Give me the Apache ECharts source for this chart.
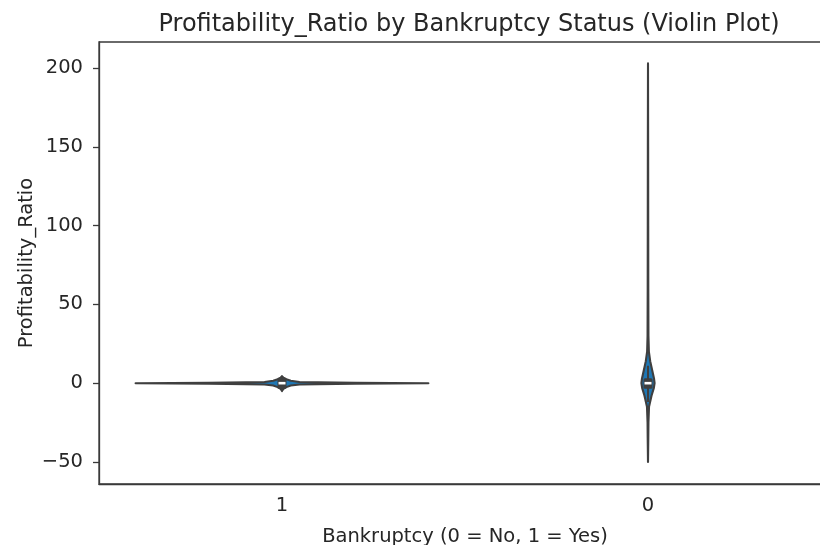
<!DOCTYPE html>
<html>
<head>
<meta charset="utf-8">
<script src="https://cdn.jsdelivr.net/npm/echarts@6/dist/echarts.min.js"></script>
<style>html,body{margin:0;padding:0;background:#fff;}#c{width:820px;height:545px;}</style>
</head>
<body>
<div id="c"></div>
<script>
var categories = ['1', '0'];
var yTicks = [-50, 0, 50, 100, 150, 200];
// KDE grid (value) and relative half-width (fraction of max violin half-width) per category
var kdeY1 = [-5, -3.5, -2.5, -1.5, -0.8, -0.3, 0, 0.3, 0.8, 1.5, 2.5, 3.5, 4.5];
var kdeW1 = [0, 0.01, 0.03, 0.06, 0.12, 0.5, 1.0, 0.5, 0.12, 0.06, 0.03, 0.01, 0];
var kdeY0 = [-50, -35, -25, -15, -8, -3, 0, 3, 8, 14, 20, 30, 60, 100, 150, 203];
var kdeW0 = [0, 0.002, 0.003, 0.007, 0.024, 0.04, 0.045, 0.041, 0.029, 0.015, 0.006, 0.003, 0.002, 0.0015, 0.001, 0];
var q1 = [-3.5, -3.5];
var median = [0, 0];
var q3 = [3.2, 3.2];
var whiskLo = [-5, -12];
var whiskHi = [4.5, 11];

var kdeY = [kdeY1, kdeY0];
var kdeW = [kdeW1, kdeW0];
var dark = '#3f3f3f';
var blue = '#1f77b4';

var chart = echarts.init(document.getElementById('c'), null, {renderer: 'canvas'});

function renderItem(params, api) {
  var i = params.dataIndex;
  var band = api.size([1, 0])[0];
  var maxHalf = band * 0.4;
  var ys = kdeY[i], ws = kdeW[i];
  var cx = api.coord([i, 0])[0];
  var pts = [];
  for (var k = 0; k < ys.length; k++) {
    var p = api.coord([i, ys[k]]);
    pts.push([cx + ws[k] * maxHalf, p[1]]);
  }
  for (var k = ys.length - 1; k >= 0; k--) {
    var p = api.coord([i, ys[k]]);
    pts.push([cx - ws[k] * maxHalf, p[1]]);
  }
  var yq1 = api.coord([i, q1[i]])[1];
  var yq3 = api.coord([i, q3[i]])[1];
  var ym = api.coord([i, median[i]])[1];
  var ywl = api.coord([i, whiskLo[i]])[1];
  var ywh = api.coord([i, whiskHi[i]])[1];
  var bw = 9;
  return {
    type: 'group',
    children: [
      {type: 'polygon', shape: {points: pts}, style: {fill: blue, stroke: dark, lineWidth: 2.1, lineJoin: 'round'}},
      {type: 'line', shape: {x1: cx, y1: ywl, x2: cx, y2: ywh}, style: {stroke: dark, lineWidth: 2}},
      {type: 'rect', shape: {x: cx - bw / 2, y: yq3, width: bw, height: yq1 - yq3, r: 1.5}, style: {fill: dark}},
      {type: 'rect', shape: {x: cx - 3.5, y: ym - 1.3, width: 7, height: 2.6}, style: {fill: '#ffffff'}}
    ]
  };
}

var font = 'DejaVu Sans';
var fs = 19.5;
chart.setOption({
  animation: false,
  backgroundColor: '#ffffff',
  title: {
    text: 'Profitability_Ratio by Bankruptcy Status (Violin Plot)',
    left: 464, top: 8, textAlign: 'center',
    textStyle: {fontFamily: font, fontSize: 24, fontWeight: 'normal', color: '#262626'}
  },
  grid: {left: 99, top: 42, width: 732, height: 442, show: true, borderColor: '#3a3a3a', borderWidth: 1.3, backgroundColor: 'transparent', outerBoundsMode: 'none', containLabel: false},
  xAxis: {
    type: 'category',
    data: categories,
    boundaryGap: true,
    name: 'Bankruptcy (0 = No, 1 = Yes)',
    nameLocation: 'middle',
    nameGap: 43,
    nameTextStyle: {fontFamily: font, fontSize: fs, color: '#262626'},
    axisLine: {onZero: false, lineStyle: {color: '#3a3a3a', width: 1.3}},
    axisTick: {alignWithLabel: true, length: 6, lineStyle: {color: '#3a3a3a', width: 1.3}},
    axisLabel: {fontFamily: font, fontSize: fs, color: '#262626', margin: 12},
    splitLine: {show: false}
  },
  yAxis: {
    type: 'value',
    min: -64, max: 216.6,
    name: 'Profitability_Ratio',
    nameLocation: 'middle',
    nameGap: 62,
    nameMoveOverlap: false,
    nameTextStyle: {fontFamily: font, fontSize: fs, color: '#262626'},
    axisLine: {show: true, lineStyle: {color: '#3a3a3a', width: 1.3}},
    axisTick: {show: true, length: 6, customValues: yTicks, lineStyle: {color: '#3a3a3a', width: 1.3}},
    axisLabel: {fontFamily: font, fontSize: fs, color: '#262626', margin: 16, customValues: yTicks,
      formatter: function (v) { return String(v).replace('-', '\u2212'); }},
    splitLine: {show: false}
  },
  series: [{
    type: 'custom',
    renderItem: renderItem,
    data: [[0], [1]],
    encode: {x: 0},
    clip: false
  }]
});
</script>
</body>
</html>
